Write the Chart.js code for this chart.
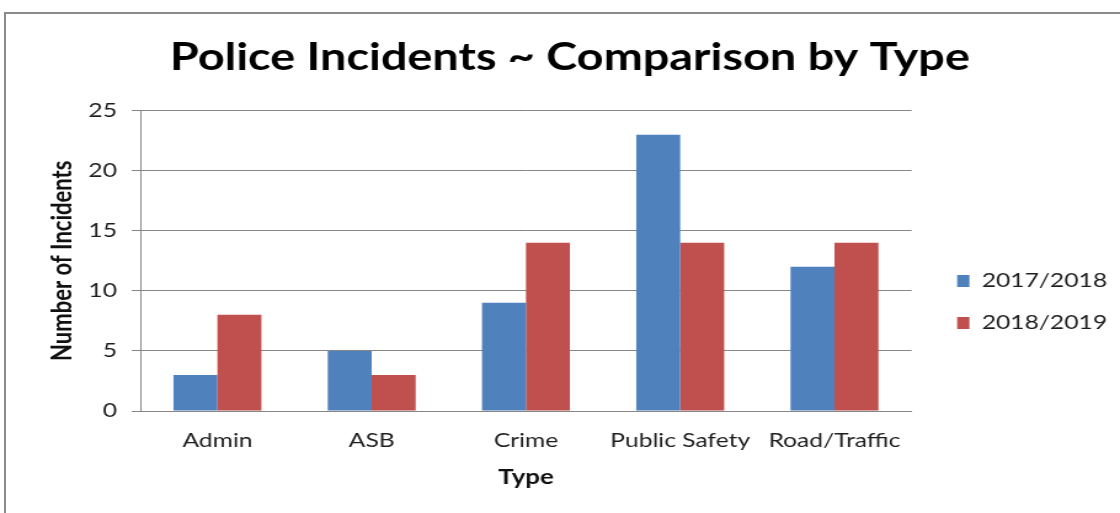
<!DOCTYPE html>
<html><head><meta charset="utf-8">
<script src="https://cdn.jsdelivr.net/npm/chart.js@4"></script>
<style>
html,body{margin:0;padding:0;background:#fff;width:1120px;height:513px;overflow:hidden;}
#frame{position:absolute;left:4px;top:12px;width:1200px;height:600px;border-left:2px solid #8a8a8a;border-top:2px solid #8a8a8a;box-sizing:border-box;}
#wrap{position:absolute;left:0;top:0;width:910px;height:513px;transform:scaleX(1.230769);transform-origin:0 0;}
</style></head>
<body>
<div id="frame"></div>
<div id="wrap"><canvas id="c"></canvas></div>
<script>
const categories = ["Admin", "ASB", "Crime", "Public Safety", "Road/Traffic"];
const series2017 = [3, 5, 9, 23, 12];
const series2018 = [8, 3, 14, 14, 14];
const seriesNames = ["2017/2018", "2018/2019"];
const yTicks = { min: 0, max: 25, step: 5 };
const FONT = "Lato, 'Open Sans', sans-serif";
const GRID = '#868686';

new Chart(document.getElementById('c'), {
  type: 'bar',
  data: {
    labels: categories,
    datasets: [
      { label: seriesNames[0], data: series2017, backgroundColor: '#4f81bd', yAxisID: 'y' },
      { label: seriesNames[1], data: series2018, backgroundColor: '#c0504d', yAxisID: 'y' }
    ]
  },
  options: {
    responsive: true,
    maintainAspectRatio: false,
    animation: false,
    layout: { padding: { top: 35, left: 24, right: 8, bottom: 23 } },
    datasets: { bar: { categoryPercentage: 0.57, barPercentage: 1.0 } },
    plugins: {
      title: {
        display: true,
        text: 'Police Incidents ~ Comparison by Type',
        color: '#000',
        font: { family: FONT, size: 38, weight: 'bold', lineHeight: 1.2 },
        padding: { top: 0, bottom: 30 }
      },
      legend: {
        position: 'right',
        align: 'start',
        title: { display: true, text: '', font: { size: 10, lineHeight: 1.2 }, padding: { top: 202, bottom: 0 } },
        labels: {
          color: '#1e1e1e',
          font: { family: FONT, size: 20 },
          boxWidth: 10, boxHeight: 12,
          padding: 22
        }
      },
      tooltip: { enabled: false }
    },
    scales: {
      x: {
        grid: { display: false, drawTicks: false },
        border: { display: true, color: GRID, width: 1 },
        ticks: { color: '#1e1e1e', font: { family: FONT, size: 20, lineHeight: 1.2 }, padding: 18 },
        title: { display: true, text: 'Type', color: '#111', font: { family: FONT, size: 21, weight: 'bold', lineHeight: 1.2 }, padding: { top: 12, bottom: 0 } },
        afterFit: (scale) => { scale.height = 79; }
      },
      y: {
        min: yTicks.min, max: yTicks.max,
        ticks: { stepSize: yTicks.step, color: '#1e1e1e', font: { family: FONT, size: 20 }, padding: 12 },
        grid: { color: GRID, tickLength: 7, drawTicks: true },
        border: { display: true, color: GRID, width: 1 },
        title: { display: true, text: 'Number of Incidents', color: '#111', font: { family: FONT, size: 22, weight: 'bold', lineHeight: 1.2 }, padding: { top: 14, bottom: 0 } },
        afterFit: (scale) => { scale.width = 90; }
      },
      gap: {
        type: 'linear',
        position: 'right',
        display: true,
        grid: { display: false, drawTicks: false },
        border: { display: false },
        ticks: { display: false },
        afterFit: (scale) => { scale.width = 15; }
      }
    }
  }
});
</script>
</body></html>
